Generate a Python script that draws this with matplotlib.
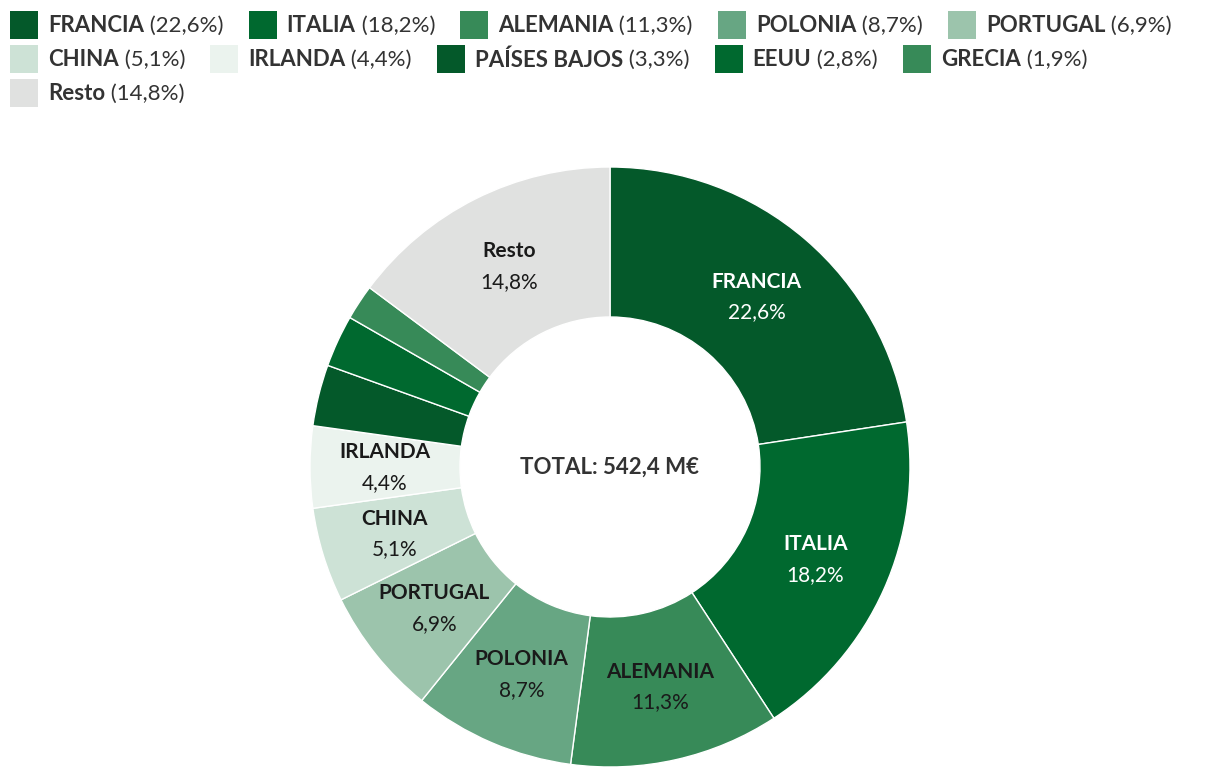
import matplotlib
matplotlib.use('Agg')
import matplotlib.pyplot as plt
from matplotlib.patches import Rectangle
import numpy as np

plt.rcParams['font.family'] = ['Lato', 'DejaVu Sans']

# datos
paises = ['FRANCIA', 'ITALIA', 'ALEMANIA', 'POLONIA', 'PORTUGAL', 'CHINA',
          'IRLANDA', 'PAÍSES BAJOS', 'EEUU', 'GRECIA', 'Resto']
cuotas = [22.6, 18.2, 11.3, 8.7, 6.9, 5.1, 4.4, 3.3, 2.8, 1.9, 14.8]
colores = ['#04592a', '#00692f', '#378a58', '#67a683', '#9cc4ac', '#cde2d6',
           '#ebf3ee', '#04592a', '#00692f', '#378a58', '#e0e1e0']
con_etiqueta = [True, True, True, True, True, True, True, False, False, False, True]
etiqueta_blanca = [True, True, False, False, False, False, False, False, False, False, False]
total = '542,4 M€'

W, H = 1220, 778
fig = plt.figure(figsize=(W / 100, H / 100), dpi=100)

ax = fig.add_axes([310 / W, 11 / H, 600 / W, 600 / H])
wedges, _ = ax.pie(cuotas, colors=colores, startangle=90, counterclock=False,
                   radius=1, wedgeprops=dict(width=0.5, edgecolor='white', linewidth=1))
ax.set_xlim(-1, 1)
ax.set_ylim(-1, 1)
ax.axis('off')

def fmt(v):
    return f'{v:.1f}'.replace('.', ',') + '%'

for w, nombre, v, lab, blanco in zip(wedges, paises, cuotas, con_etiqueta, etiqueta_blanca):
    if not lab:
        continue
    ang = np.deg2rad((w.theta1 + w.theta2) / 2)
    x, y = 0.75 * np.cos(ang), 0.75 * np.sin(ang)
    c = 'white' if blanco else '#1a1a1a'
    ax.annotate(nombre, (x, y), xytext=(0, 10.5), textcoords='offset points',
                ha='center', va='center', fontsize=15, fontweight='bold', color=c)
    ax.annotate(fmt(v), (x, y), xytext=(0, -11.5), textcoords='offset points',
                ha='center', va='center', fontsize=15, color=c)

ax.text(0, 0, 'TOTAL: ' + total, ha='center', va='center', fontsize=16,
        fontweight='bold', color='#333333')

# leyenda en flujo
fig.canvas.draw()
renderer = fig.canvas.get_renderer()
x0, xmax = 10, 1212
lado = 28
xpos, fila = x0, 0
filas_y = [25, 59, 93]
for nombre, v, col in zip(paises, cuotas, colores):
    t1 = fig.text(0, 0, nombre, fontsize=16, fontweight='bold', color='#333333',
                  va='center', ha='left')
    t2 = fig.text(0, 0, f' ({fmt(v)})', fontsize=16, color='#333333',
                  va='center', ha='left')
    w1 = t1.get_window_extent(renderer).width
    w2 = t2.get_window_extent(renderer).width
    ancho = lado + 10 + w1 + w2
    if xpos + ancho > xmax:
        fila += 1
        xpos = x0
    yc = filas_y[fila]
    fig.patches.append(Rectangle((xpos / W, 1 - (yc + lado / 2) / H), lado / W, lado / H,
                                 transform=fig.transFigure, facecolor=col,
                                 edgecolor='none', figure=fig))
    t1.set_position(((xpos + lado + 10) / W, 1 - (yc + 1) / H))
    t2.set_position(((xpos + lado + 10 + w1) / W, 1 - (yc + 1) / H))
    xpos += ancho + 25

fig.savefig('out.png', dpi=100, facecolor='white')
